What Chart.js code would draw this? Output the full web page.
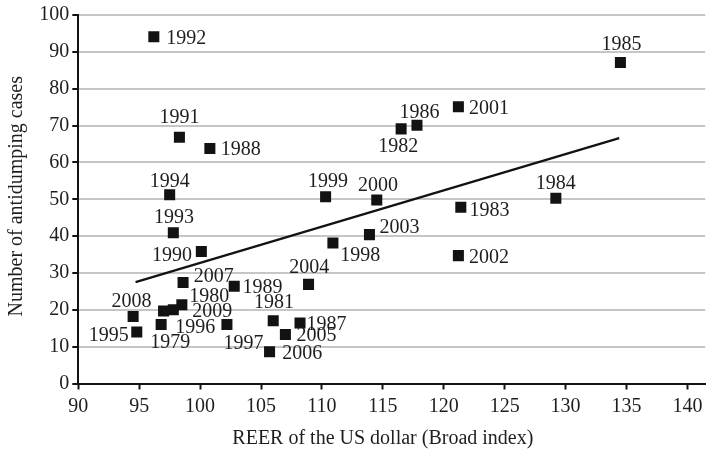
<!DOCTYPE html>
<html>
<head>
<meta charset="utf-8">
<script src="https://cdn.jsdelivr.net/npm/chart.js@4.4.1/dist/chart.umd.min.js"></script>
<style>
  html, body { margin: 0; padding: 0; background: #ffffff; }
  #wrap { width: 713px; height: 450px; position: relative; }
</style>
</head>
<body>
<div id="wrap"><canvas id="c"></canvas></div>
<script>
// ---- Data ----
const years = ['1992','1991','1988','1994','1993','1990','2007','1989','1980','2009','1996','1979','2008','1995','1997','1981','2006','2005','1987','2004','1998','2003','1999','2000','1982','1986','2001','1983','2002','1985','1984'];
const reer  = [96.2, 98.3, 100.8, 97.5, 97.8, 100.1, 98.6, 102.8, 98.5, 97.8, 97.0, 96.8, 94.5, 94.8, 102.2, 106.0, 105.7, 107.0, 108.2, 108.9, 110.9, 113.9, 110.3, 114.5, 116.5, 117.8, 121.2, 121.4, 121.2, 134.5, 129.2];
const cases = [94.1, 66.8, 63.8, 51.2, 40.9, 35.8, 27.4, 26.4, 21.4, 20.0, 19.7, 16.0, 18.2, 14.0, 16.0, 17.0, 8.6, 13.3, 16.4, 26.9, 38.1, 40.4, 50.7, 49.8, 69.1, 70.1, 75.1, 47.8, 34.7, 87.1, 50.3];
const trendX = [94.7, 134.4];
const trendY = [27.5, 66.6];
const xTickValues = [90, 95, 100, 105, 110, 115, 120, 125, 130, 135, 140];
const yTickValues = [0, 10, 20, 30, 40, 50, 60, 70, 80, 90, 100];
const xTitle = 'REER of the US dollar (Broad index)';
const yTitle = 'Number of antidumping cases';

// ---- Label placement (style, not data): [dx, dy, align] in px from the marker ----
const labelPlacement = {
  '1992': [12.3, 0, 'left'],   '1991': [0, -21, 'center'],  '1988': [11, 0, 'left'],
  '1994': [0, -15, 'center'],  '1993': [0.7, -17, 'center'],'1990': [-9.4, 2.7, 'right'],
  '2007': [10.7, -7.8, 'left'],'1989': [8.3, 0.3, 'left'],  '1980': [7.3, -9.3, 'left'],
  '2009': [19, 0.7, 'left'],   '1996': [11.7, 15, 'left'],  '1979': [9, 16.5, 'center'],
  '2008': [-1.5, -16, 'center'],'1995': [-8, 2, 'right'],   '1997': [16.5, 18, 'center'],
  '1981': [0.7, -19.5, 'center'],'2006': [12.7, 0, 'left'], '2005': [11, 0, 'left'],
  '1987': [6.6, 0.3, 'left'],  '2004': [0.7, -18.5, 'center'],'1998': [7.3, 11, 'left'],
  '2003': [10, -8.8, 'left'],  '1999': [2.4, -16.3, 'center'],'2000': [1.2, -15.5, 'center'],
  '1986': [2.6, -13.8, 'center'],'1982': [-2.8, 16.2, 'center'],'2001': [10.6, 0.3, 'left'],
  '1983': [8.6, 2, 'left'],    '2002': [10.6, 0.8, 'left'], '1985': [1, -19.5, 'center'],
  '1984': [0, -15.5, 'center']
};

const FONT = '"Liberation Serif", "Times New Roman", serif';
const TEXT = '#1e1e1e';

const points = years.map((yr, i) => ({ x: reer[i], y: cases[i], label: yr }));
const trend = trendX.map((x, i) => ({ x: x, y: trendY[i] }));

const labelPlugin = {
  id: 'pointLabels',
  afterDatasetsDraw(chart) {
    const ctx = chart.ctx;
    const meta = chart.getDatasetMeta(0);
    ctx.save();
    ctx.font = '20px ' + FONT;
    ctx.fillStyle = TEXT;
    ctx.textBaseline = 'alphabetic';
    meta.data.forEach((el, i) => {
      const yr = years[i];
      const p = labelPlacement[yr] || [10, 0, 'left'];
      ctx.textAlign = p[2];
      ctx.fillText(yr, el.x + p[0], el.y + p[1] + 6.8);
    });
    // axis titles
    const xs = chart.scales.x, ys = chart.scales.y;
    const cx = (xs.getPixelForValue(90) + xs.getPixelForValue(140)) / 2;
    ctx.textAlign = 'center';
    ctx.fillText(xTitle, cx, 444);
    ctx.translate(21.5, (ys.top + ys.bottom) / 2 - 3);
    ctx.rotate(-Math.PI / 2);
    ctx.fillText(yTitle, 0, 0);
    ctx.restore();
  }
};

new Chart(document.getElementById('c'), {
  type: 'scatter',
  data: {
    datasets: [
      {
        label: 'cases',
        data: points,
        pointStyle: 'rect',
        pointRadius: 7.8,
        pointHoverRadius: 7.8,
        backgroundColor: '#121212',
        borderWidth: 0,
        order: 1
      },
      {
        type: 'line',
        label: 'trend',
        data: trend,
        showLine: true,
        pointRadius: 0,
        borderColor: '#121212',
        borderWidth: 2.2,
        fill: false,
        order: 2
      }
    ]
  },
  options: {
    responsive: true,
    maintainAspectRatio: false,
    animation: false,
    events: [],
    layout: { padding: { top: 14, right: 0, left: 0, bottom: 0 } },
    plugins: { legend: { display: false }, tooltip: { enabled: false }, title: { display: false } },
    scales: {
      x: {
        type: 'linear',
        min: 90,
        max: 141.46,
        afterBuildTicks(scale) { scale.ticks = xTickValues.map(v => ({ value: v })); },
        afterFit(scale) { scale.height = 66.5; },
        ticks: { font: { family: FONT, size: 20 }, color: TEXT, padding: 5, maxRotation: 0, autoSkip: false },
        grid: { display: true, drawOnChartArea: false, drawTicks: true, tickLength: 6, tickColor: '#121212', tickWidth: 2 },
        border: { display: true, color: '#121212', width: 2 }
      },
      y: {
        type: 'linear',
        min: 0,
        max: 100,
        afterBuildTicks(scale) { scale.ticks = yTickValues.map(v => ({ value: v })); },
        afterFit(scale) { scale.width = 78.3; },
        ticks: { font: { family: FONT, size: 20 }, color: TEXT, padding: 3, autoSkip: false },
        grid: { color: '#c6c6c6', lineWidth: 2, drawTicks: true, tickLength: 6, tickColor: '#121212', tickWidth: 2 },
        border: { display: true, color: '#121212', width: 2 }
      }
    }
  },
  plugins: [labelPlugin]
});
</script>
</body>
</html>
